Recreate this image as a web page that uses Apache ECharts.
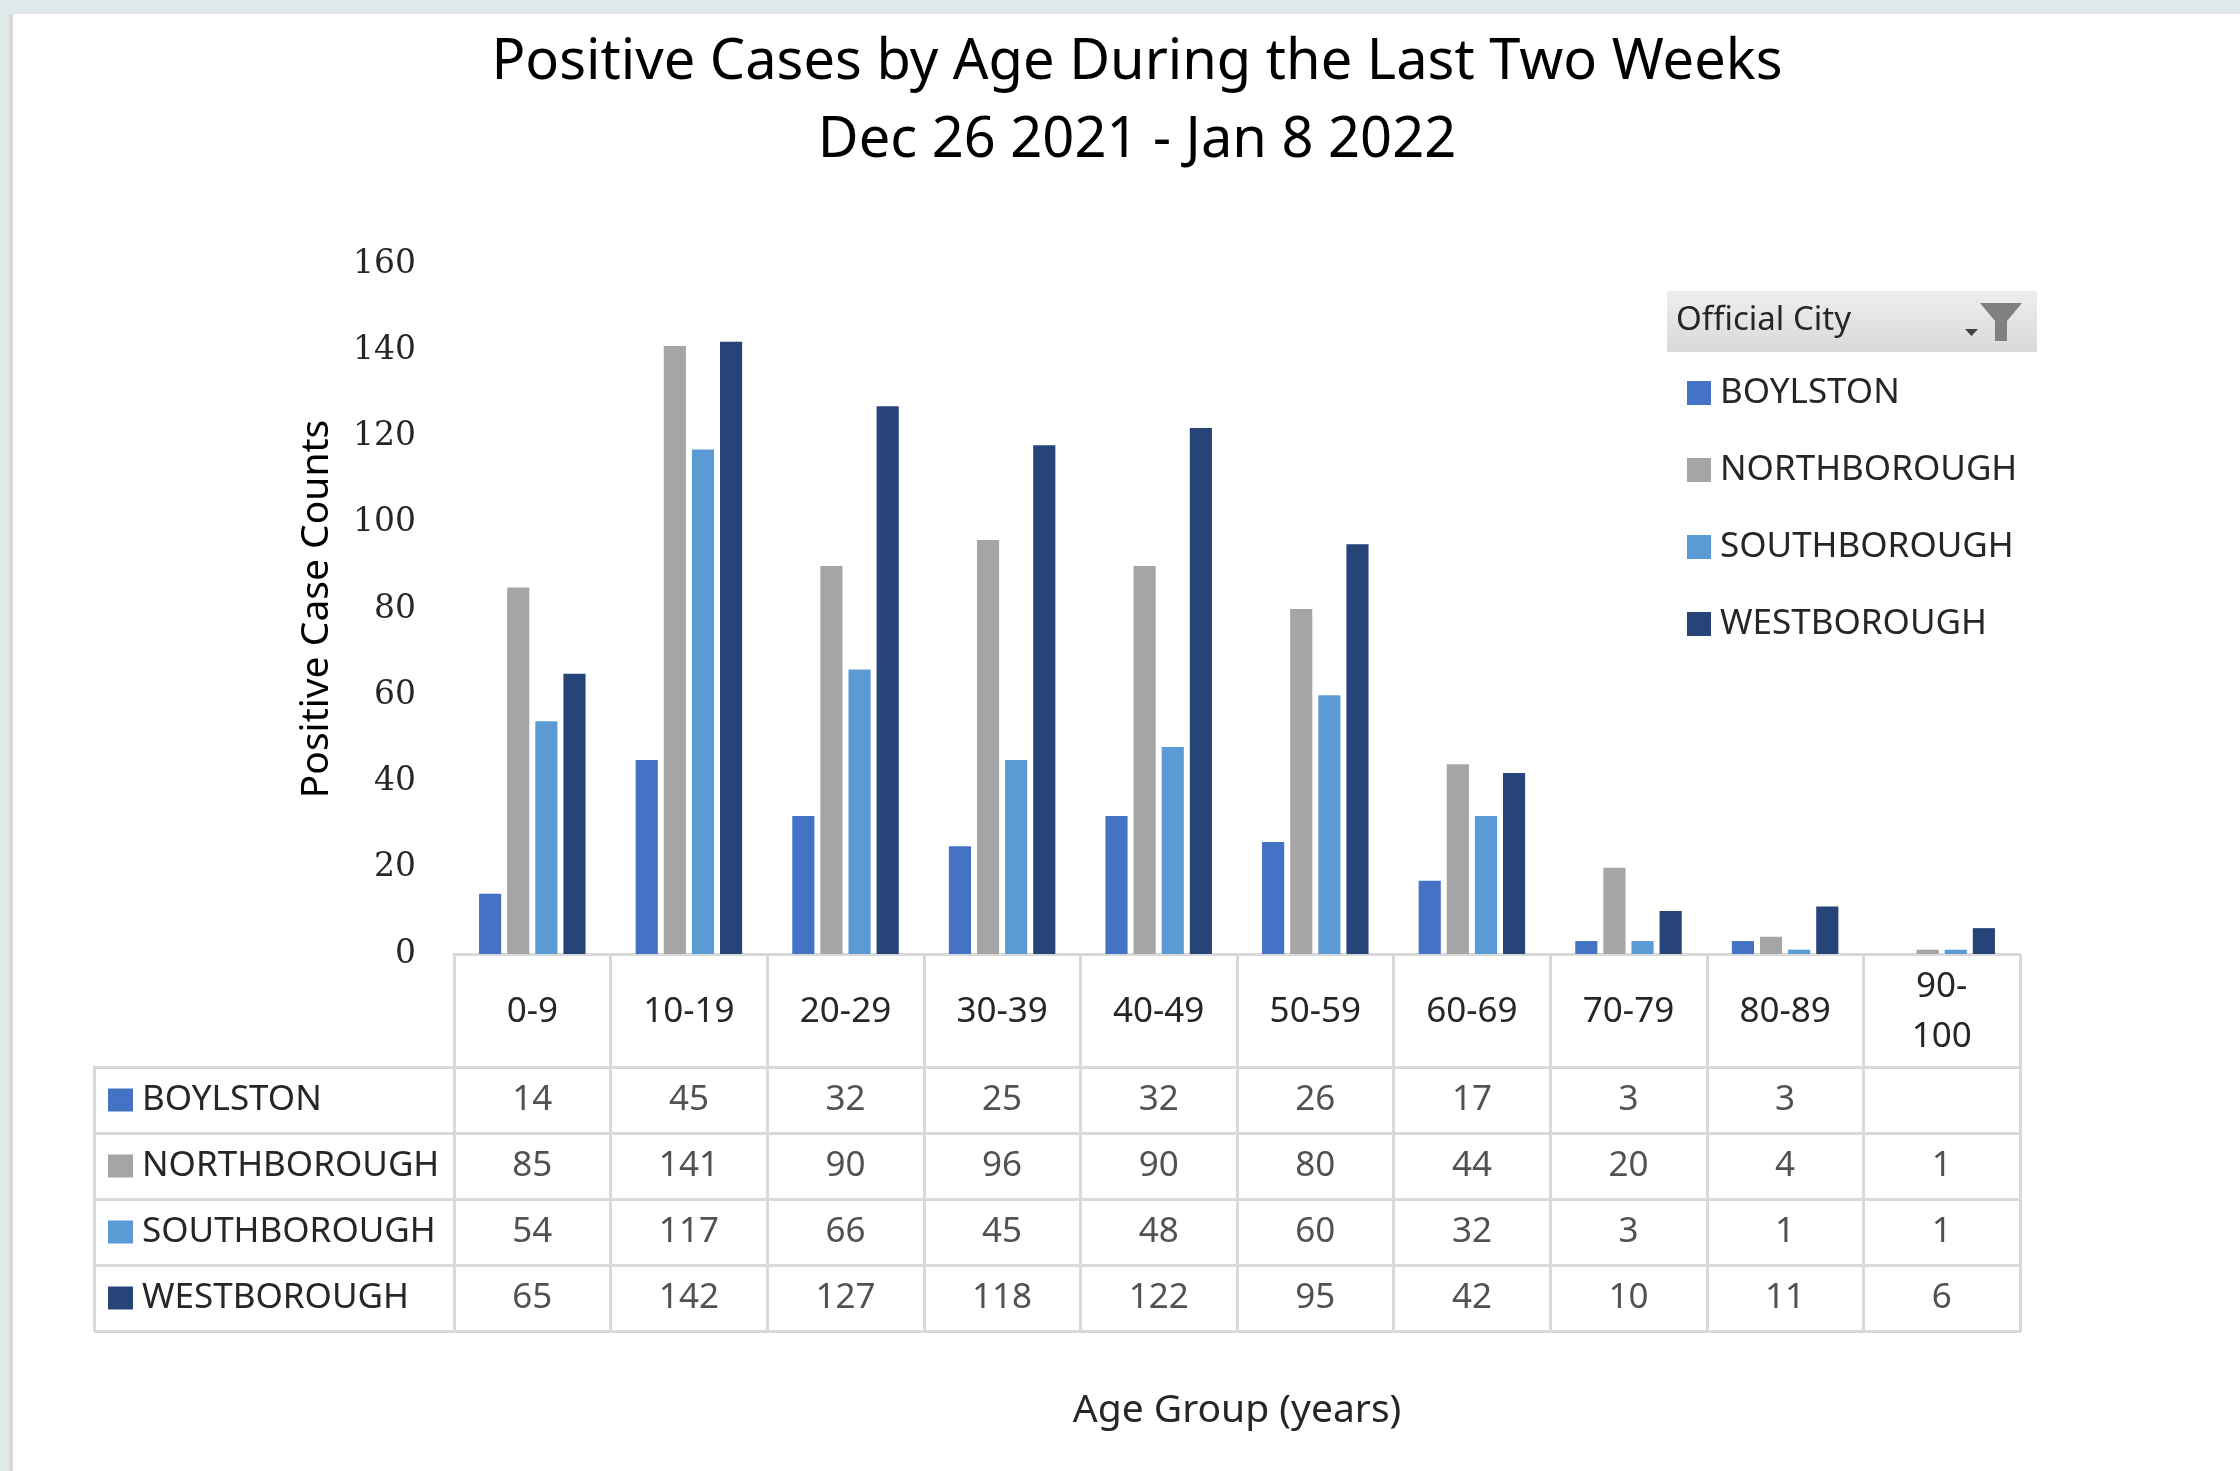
<!DOCTYPE html>
<html>
<head>
<meta charset="utf-8">
<script src="https://cdn.jsdelivr.net/npm/echarts@6/dist/echarts.min.js"></script>
<style>
  html, body { margin: 0; padding: 0; background: #fff; }
  #chart { width: 2240px; height: 1471px; }
</style>
</head>
<body>
<div id="chart"></div>
<script>
const ageGroups = ['0-9', '10-19', '20-29', '30-39', '40-49', '50-59', '60-69', '70-79', '80-89', '90-100'];
const cities = ['BOYLSTON', 'NORTHBOROUGH', 'SOUTHBOROUGH', 'WESTBOROUGH'];
const boylston = [14, 45, 32, 25, 32, 26, 17, 3, 3, null];
const northborough = [85, 141, 90, 96, 90, 80, 44, 20, 4, 1];
const southborough = [54, 117, 66, 45, 48, 60, 32, 3, 1, 1];
const westborough = [65, 142, 127, 118, 122, 95, 42, 10, 11, 6];
const yTicks = { min: 0, max: 160, step: 20 };

const colors = ['#4472C4', '#A5A5A5', '#5B9BD5', '#264478'];
const seriesValues = [boylston, northborough, southborough, westborough];
const FONT = 'Noto Sans';
const border = '#d9d9d9';

const chart = echarts.init(document.getElementById('chart'));

// cells of the data table under the plot
const tableCells = [];
seriesValues.forEach((vals, row) => {
  vals.forEach((v, col) => {
    if (v != null) tableCells.push([col, row, v]);
  });
});

const rowRich = { t: { fontFamily: FONT, fontSize: 35, color: '#262626', padding: [0, 0, 0, 9] } };
colors.forEach((c, i) => {
  rowRich['s' + i] = { width: 25, height: 23, backgroundColor: c };
});

const option = {
  backgroundColor: '#fff',
  animation: false,
  title: {
    text: 'Positive Cases by Age During the Last Two Weeks\nDec 26 2021 - Jan 8 2022',
    left: 1137,
    top: 24,
    padding: 0,
    textAlign: 'center',
    textStyle: { fontFamily: FONT, fontSize: 56, fontWeight: 'normal', color: '#000', lineHeight: 78 }
  },
  legend: {
    data: cities,
    orient: 'vertical',
    left: 1682,
    top: 368,
    itemWidth: 24,
    itemHeight: 24,
    itemGap: 37,
    icon: 'rect',
    selectedMode: false,
    textStyle: { fontFamily: FONT, fontSize: 35, color: '#262626', lineHeight: 40, padding: [0, 0, 0, 4] }
  },
  grid: [
    { left: 454, top: 264, width: 1566, height: 690, outerBoundsMode: 'none' },
    { left: 454, top: 1067, width: 1566, height: 264, outerBoundsMode: 'none' }
  ],
  xAxis: [
    {
      type: 'category',
      gridIndex: 0,
      data: ageGroups,
      axisLine: { show: true, lineStyle: { color: border, width: 3 } },
      axisTick: { show: true, interval: 0, length: 113, lineStyle: { color: border, width: 3 } },
      axisLabel: {
        interval: 0,
        margin: 58,
        verticalAlign: 'middle',
        fontFamily: FONT,
        fontSize: 35,
        lineHeight: 50,
        color: '#262626',
        formatter: v => (v.length > 5 ? v.replace('-', '-\n') : v)
      },
      splitLine: { show: false }
    },
    {
      type: 'category',
      gridIndex: 1,
      data: ageGroups,
      position: 'bottom',
      axisLine: { show: true, lineStyle: { color: border, width: 3 } },
      axisTick: { show: false },
      axisLabel: { show: false },
      splitLine: { show: true, interval: 0, lineStyle: { color: border, width: 3 } },
      name: 'Age Group (years)',
      nameLocation: 'middle',
      nameGap: 60,
      nameTextStyle: { fontFamily: FONT, fontSize: 39, color: '#262626' }
    }
  ],
  yAxis: [
    {
      type: 'value',
      gridIndex: 0,
      min: yTicks.min,
      max: yTicks.max,
      interval: yTicks.step,
      axisLine: { show: false },
      axisTick: { show: false },
      splitLine: { show: false },
      axisLabel: { margin: 38, fontFamily: 'DejaVu Serif', fontSize: 33, color: '#262626' },
      name: 'Positive Case Counts',
      nameLocation: 'middle',
      nameRotate: 90,
      nameGap: 118,
      nameTextStyle: { fontFamily: FONT, fontSize: 39, color: '#000' }
    },
    {
      type: 'category',
      gridIndex: 1,
      data: cities,
      inverse: true,
      axisLine: { show: false },
      axisTick: { show: true, interval: 0, length: 360, lineStyle: { color: border, width: 3 } },
      axisLabel: {
        interval: 0,
        align: 'left',
        margin: 346,
        formatter: (v, i) => '{s' + i + '|}{t|' + v + '}',
        rich: rowRich
      },
      splitLine: { show: true, interval: 0, lineStyle: { color: border, width: 3 } }
    },
    {
      type: 'category',
      gridIndex: 1,
      data: cities,
      inverse: true,
      position: 'left',
      offset: 360,
      axisLine: { show: true, lineStyle: { color: border, width: 3 } },
      axisTick: { show: false },
      axisLabel: { show: false },
      splitLine: { show: false }
    }
  ],
  series: cities.map((name, i) => ({
    name: name,
    type: 'bar',
    xAxisIndex: 0,
    yAxisIndex: 0,
    data: seriesValues[i],
    barGap: '27%',
    barCategoryGap: '32%',
    itemStyle: { color: colors[i] }
  })).concat([{
    name: 'table',
    type: 'scatter',
    xAxisIndex: 1,
    yAxisIndex: 1,
    data: tableCells,
    symbolSize: 0,
    silent: true,
    label: {
      show: true,
      position: 'inside',
      formatter: p => String(p.value[2]),
      fontFamily: FONT,
      fontSize: 35,
      color: '#262626'
    }
  }]),
  graphic: [
    { type: 'rect', shape: { x: 0, y: 0, width: 2240, height: 14 }, style: { fill: '#dfe9e9' }, silent: true },
    { type: 'rect', shape: { x: 0, y: 0, width: 9, height: 1471 }, style: { fill: '#dfe9e9' }, silent: true },
    { type: 'rect', shape: { x: 9, y: 14, width: 4, height: 1457 }, style: { fill: '#d9d9d9' }, silent: true },
    // pivot filter button
    {
      type: 'rect',
      shape: { x: 1667, y: 291, width: 370, height: 61 },
      style: {
        fill: new echarts.graphic.LinearGradient(0, 0, 0, 1, [
          { offset: 0, color: '#eeeeee' },
          { offset: 1, color: '#d9d9d9' }
        ])
      },
      silent: true
    },
    {
      type: 'text',
      x: 1676,
      y: 321,
      style: { text: 'Official City', fontFamily: FONT, fontSize: 33, fill: '#262626', verticalAlign: 'middle' },
      silent: true
    },
    {
      type: 'polygon',
      shape: { points: [[1980, 303], [2022, 303], [2007, 321], [2007, 341], [1995, 341], [1995, 321]] },
      style: { fill: '#808080' },
      silent: true
    },
    {
      type: 'polygon',
      shape: { points: [[1965, 329], [1978, 329], [1971.5, 336]] },
      style: { fill: '#404040' },
      silent: true
    }
  ]
};

chart.setOption(option);
</script>
</body>
</html>
